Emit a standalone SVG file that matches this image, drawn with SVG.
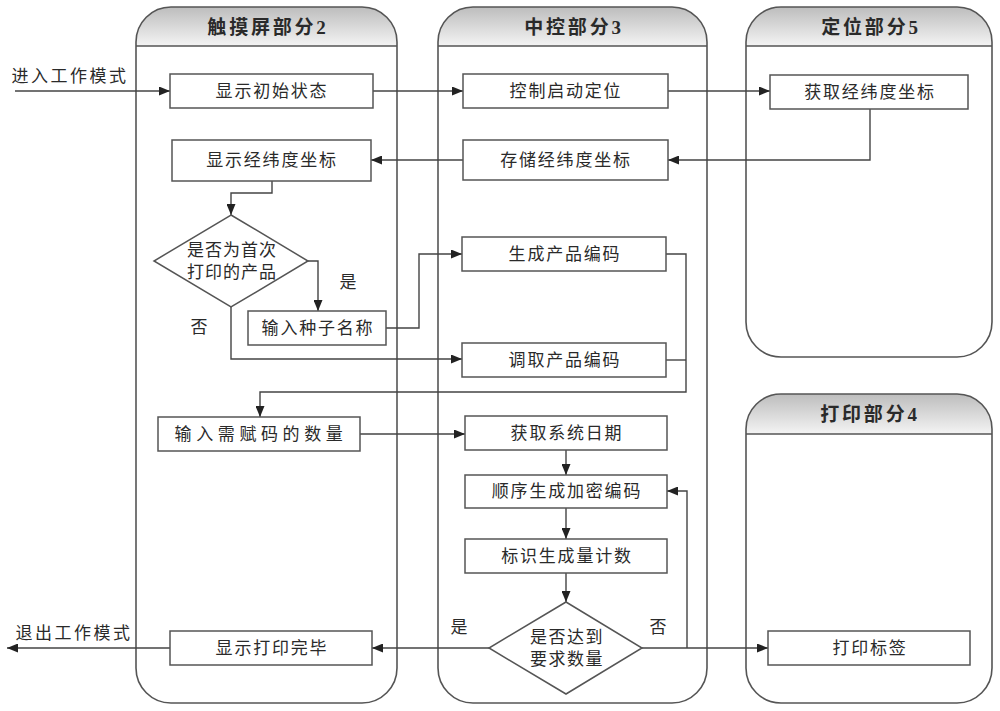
<svg xmlns="http://www.w3.org/2000/svg" width="1000" height="711" viewBox="0 0 1000 711">
<style>
.lane{fill:none;stroke:#555;stroke-width:1.6}
.hdr{fill:url(#hg);stroke:none}
.hline{stroke:#555;stroke-width:1.6}
.box{fill:#fff;stroke:#555;stroke-width:1.5}
.dia{fill:#fff;stroke:#555;stroke-width:1.5}
.t{font-family:"Liberation Serif","Noto Sans CJK SC",serif;font-size:17px;fill:#2a2a2a;text-anchor:middle;dominant-baseline:central;letter-spacing:1.8px}
.h{font-family:"Liberation Serif","Noto Sans CJK SC",serif;font-size:19px;font-weight:bold;fill:#2a2a2a;text-anchor:middle;dominant-baseline:central;letter-spacing:2.8px}
.c{fill:none;stroke:#444;stroke-width:1.4;marker-end:url(#ah)}
.cn{fill:none;stroke:#444;stroke-width:1.4}
</style>
<defs>
<linearGradient id="hg" x1="0" y1="0" x2="0" y2="1">
<stop offset="0" stop-color="#bdbdbd"/>
<stop offset="1" stop-color="#f4f4f4"/>
</linearGradient>
<marker id="ah" markerUnits="userSpaceOnUse" markerWidth="11" markerHeight="9" refX="11" refY="4.5" orient="auto">
<path d="M0,0 L11,4.5 L0,9 z" fill="#222"/>
</marker>
</defs>
<rect width="1000" height="711" fill="#fff"/>

<g id="lane-touch">
<path class="hdr" d="M136,46 V42 A35,35 0 0 1 171,7 H362 A35,35 0 0 1 397,42 V46 Z"/>
<rect class="lane" x="136" y="7" width="261" height="696" rx="35" ry="35"/>
<line class="hline" x1="136" y1="46" x2="397" y2="46"/>
<text class="h" x="268" y="27">触摸屏部分2</text>
</g>
<g id="lane-control">
<path class="hdr" d="M438,46 V42 A35,35 0 0 1 473,7 H672 A35,35 0 0 1 707,42 V46 Z"/>
<rect class="lane" x="438" y="7" width="269" height="696" rx="35" ry="35"/>
<line class="hline" x1="438" y1="46" x2="707" y2="46"/>
<text class="h" x="574" y="27">中控部分3</text>
</g>
<g id="lane-locate">
<path class="hdr" d="M746,46 V42 A35,35 0 0 1 781,7 H957 A35,35 0 0 1 992,42 V46 Z"/>
<rect class="lane" x="746" y="7" width="246" height="350" rx="35" ry="35"/>
<line class="hline" x1="746" y1="46" x2="992" y2="46"/>
<text class="h" x="871" y="27">定位部分5</text>
</g>
<g id="lane-print">
<path class="hdr" d="M746,434 V429 A35,35 0 0 1 781,394 H957 A35,35 0 0 1 992,429 V434 Z"/>
<rect class="lane" x="746" y="394" width="246" height="309" rx="35" ry="35"/>
<line class="hline" x1="746" y1="434" x2="992" y2="434"/>
<text class="h" x="870" y="414">打印部分4</text>
</g>

<g id="connectors">
<path class="c" d="M15,91 H170"/>
<path class="c" d="M373,91 H463"/>
<path class="c" d="M668,91 H770"/>
<path class="c" d="M870,109 V160 H668"/>
<path class="c" d="M463,160 H371"/>
<path class="c" d="M272,181 V193 H231 V215"/>
<path class="c" d="M308,261 H318 V311"/>
<path class="c" d="M386,328 H419 V254 H462"/>
<path class="c" d="M231,307 V359 H462"/>
<path class="c" d="M666,254 H686 V392 H260 V417"/>
<path class="cn" d="M666,360 H686"/>
<path class="c" d="M360,434 H465"/>
<path class="c" d="M566,450 V475"/>
<path class="c" d="M566,508 V539"/>
<path class="c" d="M566,573 V602"/>
<path class="c" d="M642,648 H768"/>
<path class="c" d="M687,648 V491 H667"/>
<path class="c" d="M489,648 H372"/>
<path class="c" d="M170,648 H7"/>
<text class="t" x="349" y="282">是</text>
<text class="t" x="200" y="327">否</text>
<text class="t" x="460" y="627">是</text>
<text class="t" x="659" y="627">否</text>
<text class="t" x="70" y="76" style="letter-spacing:2.5px">进入工作模式</text>
<text class="t" x="74" y="633" style="letter-spacing:2.5px">退出工作模式</text>
</g>

<g id="n-show-init"><rect class="box" x="170" y="74" width="203" height="34"/><text class="t" x="272" y="91">显示初始状态</text></g>
<g id="n-show-coord"><rect class="box" x="172" y="140" width="199" height="41"/><text class="t" x="272" y="160">显示经纬度坐标</text></g>
<g id="n-start-locate"><rect class="box" x="463" y="74" width="205" height="34"/><text class="t" x="566" y="91">控制启动定位</text></g>
<g id="n-store-coord"><rect class="box" x="463" y="140" width="205" height="40"/><text class="t" x="566" y="160">存储经纬度坐标</text></g>
<g id="n-get-coord"><rect class="box" x="770" y="75" width="198" height="34"/><text class="t" x="870" y="92">获取经纬度坐标</text></g>
<g id="n-first"><polygon class="dia" points="231,215 308,261 231,307 154,261"/><text class="t" x="232" y="250" style="letter-spacing:1px">是否为首次</text><text class="t" x="232" y="272" style="letter-spacing:1px">打印的产品</text></g>
<g id="n-seed"><rect class="box" x="248" y="311" width="138" height="34"/><text class="t" x="318" y="328">输入种子名称</text></g>
<g id="n-gen-code"><rect class="box" x="462" y="237" width="204" height="34"/><text class="t" x="565" y="254">生成产品编码</text></g>
<g id="n-fetch-code"><rect class="box" x="462" y="343" width="204" height="34"/><text class="t" x="565" y="360">调取产品编码</text></g>
<g id="n-qty"><rect class="box" x="158" y="417" width="202" height="34"/><text class="t" x="261" y="434" style="letter-spacing:4.6px">输入需赋码的数量</text></g>
<g id="n-date"><rect class="box" x="465" y="416" width="202" height="34"/><text class="t" x="567" y="433">获取系统日期</text></g>
<g id="n-encrypt"><rect class="box" x="465" y="475" width="202" height="33"/><text class="t" x="567" y="491.5">顺序生成加密编码</text></g>
<g id="n-count"><rect class="box" x="465" y="539" width="202" height="34"/><text class="t" x="567" y="556">标识生成量计数</text></g>
<g id="n-reach"><polygon class="dia" points="566,602 642,648 566,694 489,648"/><text class="t" x="567" y="637" style="letter-spacing:1.5px">是否达到</text><text class="t" x="567" y="659" style="letter-spacing:1.5px">要求数量</text></g>
<g id="n-done"><rect class="box" x="170" y="631" width="202" height="34"/><text class="t" x="272" y="648">显示打印完毕</text></g>
<g id="n-label"><rect class="box" x="768" y="631" width="202" height="34"/><text class="t" x="870" y="648">打印标签</text></g>
</svg>
